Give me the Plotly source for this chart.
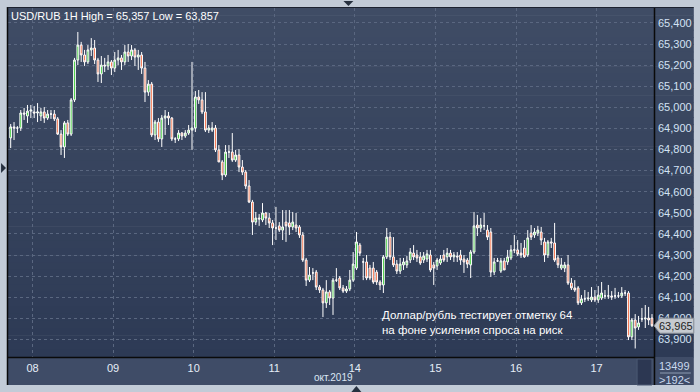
import plotly.graph_objects as go

# ---------------- data (USD/RUB, 1H candles) ----------------
open_ = [
    64.855, 64.907, 64.902, 64.902, 64.973, 64.959, 64.982, 64.978, 64.973, 64.959,
    64.978, 64.949, 64.968, 64.968, 64.945, 64.873, 64.812, 64.926, 64.873, 65.035,
    65.224, 65.295, 65.248, 65.215, 65.272, 65.281, 65.224, 65.158, 65.200, 65.196,
    65.215, 65.186, 65.224, 65.234, 65.215, 65.262, 65.243, 65.272, 65.238, 65.248,
    65.186, 65.072, 65.110, 64.869, 64.930, 64.850, 64.949, 64.959, 64.949, 64.850,
    64.850, 64.878, 64.864, 64.878, 64.892, 64.902, 65.049, 65.035, 64.978, 64.892,
    64.892, 64.902, 64.798, 64.741, 64.679, 64.788, 64.788, 64.750, 64.774, 64.717,
    64.693, 64.627, 64.551, 64.456, 64.475, 64.466, 64.499, 64.475, 64.452, 64.428,
    64.438, 64.418, 64.456, 64.452, 64.433, 64.442, 64.433, 64.395, 64.276, 64.181,
    64.215, 64.219, 64.148, 64.134, 64.073, 64.125, 64.096, 64.181, 64.191, 64.144,
    64.129, 64.139, 64.181, 64.238, 64.347, 64.267, 64.267, 64.238, 64.238, 64.219,
    64.172, 64.158, 64.291, 64.385, 64.291, 64.257, 64.224, 64.253, 64.253, 64.276,
    64.309, 64.300, 64.291, 64.276, 64.281, 64.300, 64.253, 64.248, 64.262, 64.300,
    64.291, 64.309, 64.291, 64.295, 64.300, 64.281, 64.276, 64.253, 64.314, 64.442,
    64.428, 64.438, 64.418, 64.409, 64.219, 64.272, 64.224, 64.272, 64.267, 64.286,
    64.324, 64.324, 64.309, 64.333, 64.300, 64.404, 64.395, 64.404, 64.409, 64.362,
    64.300, 64.362, 64.357, 64.286, 64.238, 64.238, 64.253, 64.167, 64.144, 64.144,
    64.073, 64.092, 64.092, 64.087, 64.101, 64.087, 64.096, 64.106, 64.106, 64.106,
    64.106, 64.106, 64.106, 64.120, 64.120, 63.912, 63.992, 63.959, 63.997, 63.997,
    64.001, 64.001,
]
high = [
    64.921, 64.930, 64.911, 64.987, 64.997, 65.011, 65.011, 65.006, 65.020, 64.997,
    65.001, 64.987, 64.987, 64.987, 64.954, 64.892, 64.935, 64.940, 65.044, 65.234,
    65.357, 65.310, 65.272, 65.295, 65.328, 65.319, 65.234, 65.243, 65.234, 65.248,
    65.224, 65.262, 65.272, 65.248, 65.295, 65.300, 65.295, 65.281, 65.272, 65.262,
    65.215, 65.129, 65.120, 64.940, 64.949, 64.963, 64.987, 64.978, 64.954, 64.859,
    64.892, 64.883, 64.892, 64.916, 65.215, 65.077, 65.082, 65.072, 65.072, 64.916,
    64.930, 64.916, 64.821, 64.750, 64.821, 64.821, 64.878, 64.798, 64.802, 64.750,
    64.703, 64.655, 64.561, 64.504, 64.494, 64.546, 64.504, 64.499, 64.466, 64.528,
    64.456, 64.513, 64.513, 64.513, 64.504, 64.499, 64.442, 64.409, 64.286, 64.243,
    64.238, 64.229, 64.158, 64.144, 64.181, 64.134, 64.191, 64.238, 64.200, 64.158,
    64.153, 64.229, 64.314, 64.409, 64.357, 64.286, 64.300, 64.253, 64.267, 64.229,
    64.181, 64.300, 64.428, 64.409, 64.385, 64.276, 64.286, 64.286, 64.295, 64.333,
    64.347, 64.324, 64.314, 64.314, 64.324, 64.324, 64.267, 64.286, 64.300, 64.324,
    64.333, 64.324, 64.314, 64.314, 64.324, 64.300, 64.286, 64.324, 64.504, 64.490,
    64.475, 64.499, 64.442, 64.428, 64.286, 64.286, 64.286, 64.286, 64.324, 64.347,
    64.395, 64.371, 64.357, 64.371, 64.418, 64.442, 64.428, 64.438, 64.433, 64.381,
    64.371, 64.381, 64.452, 64.300, 64.286, 64.267, 64.300, 64.191, 64.181, 64.153,
    64.110, 64.134, 64.125, 64.148, 64.134, 64.153, 64.172, 64.134, 64.158, 64.129,
    64.144, 64.125, 64.148, 64.134, 64.129, 64.001, 64.020, 64.011, 64.049, 64.063,
    64.054, 64.020,
]
low = [
    64.807, 64.845, 64.878, 64.888, 64.940, 64.926, 64.949, 64.949, 64.930, 64.935,
    64.926, 64.940, 64.945, 64.935, 64.869, 64.774, 64.760, 64.864, 64.864, 65.025,
    65.200, 65.215, 65.196, 65.205, 65.243, 65.205, 65.120, 65.115, 65.167, 65.177,
    65.153, 65.167, 65.200, 65.177, 65.200, 65.215, 65.224, 65.196, 65.177, 65.158,
    65.025, 65.054, 64.859, 64.845, 64.836, 64.812, 64.869, 64.916, 64.840, 64.831,
    64.840, 64.845, 64.855, 64.869, 64.798, 64.883, 65.016, 64.968, 64.883, 64.878,
    64.883, 64.788, 64.741, 64.655, 64.670, 64.760, 64.741, 64.741, 64.693, 64.679,
    64.613, 64.546, 64.395, 64.442, 64.438, 64.456, 64.442, 64.428, 64.347, 64.371,
    64.409, 64.371, 64.362, 64.395, 64.418, 64.409, 64.381, 64.267, 64.153, 64.172,
    64.181, 64.134, 64.120, 64.006, 64.049, 64.063, 64.016, 64.172, 64.134, 64.120,
    64.120, 64.129, 64.172, 64.229, 64.295, 64.181, 64.181, 64.181, 64.163, 64.158,
    64.134, 64.120, 64.281, 64.276, 64.243, 64.210, 64.210, 64.229, 64.238, 64.262,
    64.276, 64.267, 64.253, 64.262, 64.267, 64.219, 64.158, 64.229, 64.253, 64.267,
    64.267, 64.276, 64.267, 64.267, 64.253, 64.215, 64.238, 64.191, 64.305, 64.390,
    64.409, 64.418, 64.371, 64.196, 64.205, 64.267, 64.215, 64.229, 64.253, 64.276,
    64.309, 64.295, 64.286, 64.286, 64.291, 64.371, 64.381, 64.390, 64.347, 64.267,
    64.286, 64.333, 64.267, 64.238, 64.229, 64.219, 64.158, 64.134, 64.125, 64.063,
    64.063, 64.077, 64.082, 64.077, 64.077, 64.073, 64.087, 64.092, 64.092, 64.087,
    64.092, 64.096, 64.096, 64.106, 63.897, 63.897, 63.857, 63.945, 63.983, 63.954,
    63.968, 63.959,
]
close = [
    64.907, 64.902, 64.902, 64.973, 64.968, 64.982, 64.987, 64.973, 64.978, 64.978,
    64.949, 64.968, 64.968, 64.945, 64.873, 64.812, 64.926, 64.873, 65.035, 65.224,
    65.295, 65.248, 65.215, 65.272, 65.281, 65.224, 65.158, 65.200, 65.196, 65.215,
    65.186, 65.224, 65.234, 65.215, 65.262, 65.243, 65.272, 65.238, 65.248, 65.186,
    65.072, 65.110, 64.869, 64.930, 64.850, 64.949, 64.959, 64.949, 64.850, 64.850,
    64.878, 64.864, 64.878, 64.892, 64.902, 65.049, 65.035, 64.978, 64.892, 64.902,
    64.902, 64.798, 64.741, 64.679, 64.788, 64.788, 64.750, 64.774, 64.717, 64.693,
    64.627, 64.551, 64.456, 64.475, 64.471, 64.499, 64.475, 64.452, 64.428, 64.428,
    64.418, 64.433, 64.438, 64.433, 64.456, 64.428, 64.395, 64.276, 64.181, 64.205,
    64.215, 64.148, 64.134, 64.073, 64.125, 64.096, 64.181, 64.181, 64.144, 64.129,
    64.139, 64.181, 64.257, 64.362, 64.309, 64.267, 64.191, 64.191, 64.172, 64.172,
    64.158, 64.291, 64.385, 64.291, 64.253, 64.224, 64.257, 64.267, 64.272, 64.314,
    64.291, 64.286, 64.262, 64.295, 64.305, 64.229, 64.238, 64.276, 64.281, 64.276,
    64.309, 64.291, 64.300, 64.291, 64.276, 64.267, 64.257, 64.314, 64.438, 64.428,
    64.442, 64.438, 64.385, 64.219, 64.267, 64.272, 64.272, 64.229, 64.291, 64.324,
    64.324, 64.305, 64.300, 64.291, 64.381, 64.385, 64.409, 64.418, 64.371, 64.300,
    64.362, 64.357, 64.276, 64.253, 64.253, 64.253, 64.167, 64.144, 64.134, 64.073,
    64.092, 64.092, 64.096, 64.101, 64.087, 64.110, 64.120, 64.106, 64.106, 64.101,
    64.106, 64.106, 64.120, 64.120, 63.912, 63.992, 63.954, 63.978, 63.997, 64.001,
    63.992, 63.965,
]

day_labels = ["08", "09", "10", "11", "14", "15", "16", "17"]
day_first_bar = [7, 31, 55, 79, 103, 127, 151, 175]   # index of the 00:00 bar of each day
month_label = "окт.2019"
price_ticks = [63.9, 64.0, 64.1, 64.2, 64.3, 64.4, 64.5, 64.6, 64.7, 64.8, 64.9,
               65.0, 65.1, 65.2, 65.3, 65.4]
price_tick_text = ["63,900", "64,000", "64,100", "64,200", "64,300", "64,400", "64,500",
                   "64,600", "64,700", "64,800", "64,900", "65,000", "65,100", "65,200",
                   "65,300", "65,400"]
title_text = "USD/RUB 1H High = 65,357 Low = 63,857"
note_lines = ["Доллар/рубль тестирует отметку 64", "на фоне усиления спроса на риск"]
last_price_text = "63,965"
bars_count_text = "13499"
visible_bars_text = ">192<"

# ---------------- layout geometry (pixels) ----------------
W, H = 700, 392
L, R, T, B = 8, 657, 8, 357          # plot area
RP = 697                             # right edge of the price panel
BB = 385                             # bottom edge of the time panel


def px(x):
    return (x - L) / (R - L)


def py(y):
    return (B - y) / (B - T)


FONT = "Liberation Sans, Arial, sans-serif"

fig = go.Figure()
idx = list(range(len(close)))
fig.add_trace(go.Candlestick(
    x=idx, open=open_, high=high, low=low, close=close,
    increasing=dict(line=dict(color="#ffffff", width=1), fillcolor="#22c51e"),
    decreasing=dict(line=dict(color="#ffffff", width=1), fillcolor="#f5592a"),
    whiskerwidth=0, hoverinfo="skip", showlegend=False,
))

shapes = []
# vertical gradient background of plot + price panel
top_c = (63, 76, 101)
bot_c = (45, 58, 85)
n = 48
for i in range(n):
    y0 = T + (B - T) * i / n
    y1 = T + (B - T) * (i + 1) / n + 0.6
    f = (i + 0.5) / n
    c = tuple(round(top_c[k] + (bot_c[k] - top_c[k]) * f) for k in range(3))
    shapes.append(dict(type="rect", xref="paper", yref="paper", layer="below",
                       x0=px(L), x1=px(RP), y0=py(y1), y1=py(y0),
                       fillcolor="rgb(%d,%d,%d)" % c, line=dict(width=0)))
# time panel at the bottom (and counter panel)
shapes.append(dict(type="rect", xref="paper", yref="paper", layer="below",
                   x0=px(L), x1=px(RP), y0=py(BB), y1=py(B),
                   fillcolor="#3f4c67", line=dict(width=0)))
# little dark scroller in the time panel
shapes.append(dict(type="rect", xref="paper", yref="paper", layer="below",
                   x0=px(640), x1=px(655), y0=py(385), y1=py(359),
                   fillcolor="#2c3752", line=dict(color="#4b5872", width=1)))
# frame lines
line_black = dict(color="#0a0a0a", width=1.5)
shapes += [
    dict(type="line", xref="paper", yref="paper", x0=px(L - 0.5), x1=px(L - 0.5),
         y0=py(BB), y1=py(T - 1), line=line_black),
    dict(type="line", xref="paper", yref="paper", x0=px(L - 0.5), x1=px(RP),
         y0=py(T - 0.5), y1=py(T - 0.5), line=dict(color="#1c2230", width=1)),
    dict(type="line", xref="paper", yref="paper", x0=px(L), x1=px(R),
         y0=py(B + 0.5), y1=py(B + 0.5), line=line_black),
    dict(type="line", xref="paper", yref="paper", x0=px(R + 0.5), x1=px(R + 0.5),
         y0=py(BB), y1=py(T), line=line_black),
    # separator between counters
    dict(type="line", xref="paper", yref="paper", x0=px(663), x1=px(694),
         y0=py(373), y1=py(373), line=dict(color="#8d9bb2", width=1)),
]
# last price marker box with arrow
last_y = 325.7
shapes.append(dict(type="path", xref="paper", yref="paper", layer="above",
                   path="M %f %f L %f %f L %f %f L %f %f L %f %f L %f %f Z" % (
                       px(657), py(last_y), px(663), py(last_y - 7.5), px(697), py(last_y - 7.5),
                       px(697), py(last_y + 7.5), px(663), py(last_y + 7.5), px(657), py(last_y)),
                   fillcolor="#c6cad0", line=dict(color="#8a9099", width=1)))
# small navigation triangles on the outer frame
tri = "#26303f"
shapes += [
    dict(type="path", xref="paper", yref="paper",
         path="M %f %f L %f %f L %f %f Z" % (px(345), py(1), px(355), py(1), px(350), py(6)),
         fillcolor=tri, line=dict(width=0)),
    dict(type="path", xref="paper", yref="paper",
         path="M %f %f L %f %f L %f %f Z" % (px(1), py(163), px(1), py(173), px(6), py(168)),
         fillcolor=tri, line=dict(width=0)),
    dict(type="path", xref="paper", yref="paper",
         path="M %f %f L %f %f L %f %f Z" % (px(353), py(392), px(363), py(392), px(358), py(386)),
         fillcolor=tri, line=dict(width=0)),
]

annotations = [
    dict(text=title_text, xref="paper", yref="paper", x=px(10), y=py(16.5),
         xanchor="left", yanchor="middle", showarrow=False, borderpad=0,
         font=dict(family=FONT, size=11, color="#ffffff")),
    dict(text="<br>".join(note_lines), xref="paper", yref="paper", x=px(383), y=py(322.5),
         xanchor="left", yanchor="middle", align="left", showarrow=False, borderpad=0,
         font=dict(family=FONT, size=11.5, color="#ffffff")),
    dict(text=month_label, xref="paper", yref="paper", x=px(335), y=py(377),
         xanchor="center", yanchor="middle", showarrow=False, borderpad=0,
         font=dict(family=FONT, size=10, color="#dbe6f3")),
    dict(text=last_price_text, xref="paper", yref="paper", x=px(679), y=py(last_y),
         xanchor="center", yanchor="middle", showarrow=False, borderpad=0,
         font=dict(family=FONT, size=11, color="#1e1e1e")),
    dict(text=bars_count_text, xref="paper", yref="paper", x=px(678), y=py(366),
         xanchor="center", yanchor="middle", showarrow=False, borderpad=0,
         font=dict(family=FONT, size=11, color="#c9d8ee")),
    dict(text=visible_bars_text, xref="paper", yref="paper", x=px(678), y=py(380),
         xanchor="center", yanchor="middle", showarrow=False, borderpad=0,
         font=dict(family=FONT, size=11, color="#c9d8ee")),
]

grid_col = "#5a6780"
fig.update_layout(
    width=W, height=H,
    margin=dict(l=L, r=W - R, t=T, b=H - B, pad=0),
    paper_bgcolor="#c2cbd7",
    plot_bgcolor="rgba(0,0,0,0)",
    shapes=shapes,
    annotations=annotations,
    showlegend=False,
    xaxis=dict(
        range=[-0.8, len(close) - 0.4],
        rangeslider=dict(visible=False),
        tickvals=[s - 0.5 for s in day_first_bar], ticktext=day_labels,
        showgrid=True, gridcolor=grid_col, griddash="3px,3px", gridwidth=1,
        zeroline=False, showline=False, ticks="", ticklabelstandoff=3,
        tickfont=dict(family=FONT, size=11, color="#e6eef7"),
        fixedrange=True,
    ),
    yaxis=dict(
        range=[63.8166, 65.4706], side="right",
        tickvals=price_ticks, ticktext=price_tick_text,
        showgrid=True, gridcolor=grid_col, griddash="3px,3px", gridwidth=1,
        zeroline=False, showline=False, ticks="", ticklabelstandoff=3,
        tickfont=dict(family=FONT, size=11, color="#d3e2f4"),
        fixedrange=True,
    ),
    boxgap=0.25,
)

fig.write_html("out.html")
